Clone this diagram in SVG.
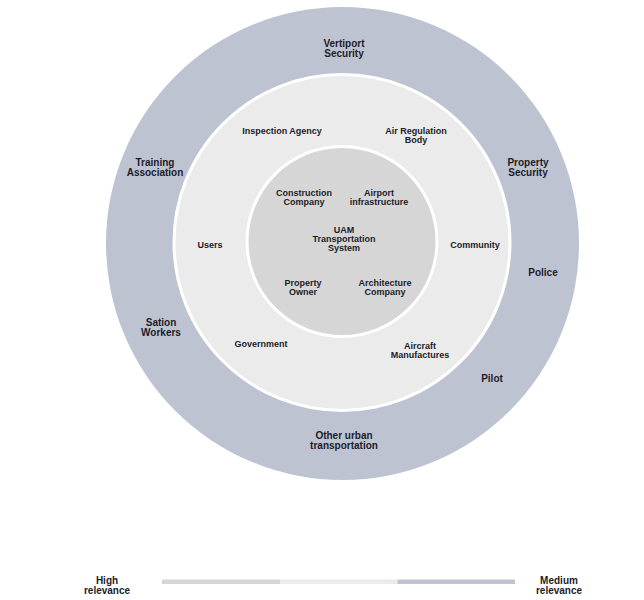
<svg xmlns="http://www.w3.org/2000/svg" width="644" height="600" viewBox="0 0 644 600">
<style>
text{font-family:"Liberation Sans",Arial,sans-serif;font-weight:bold;fill:#1c1c28;text-anchor:middle}
.o{font-size:10px}
.m{font-size:9px}
.l{font-size:10px}
</style>
<rect width="644" height="600" fill="#ffffff"/>
<g id="ring-outer"><circle cx="342.5" cy="243.5" r="236.5" fill="#bec3d2"/></g>
<g id="ring-middle"><circle cx="342" cy="242.5" r="168" fill="#ebebeb" stroke="#ffffff" stroke-width="3"/></g>
<g id="ring-inner"><circle cx="342" cy="241.5" r="95" fill="#d6d6d6" stroke="#ffffff" stroke-width="3"/></g>
<g id="connectors"></g>
<g id="outer-labels">
<g id="n-vertiport"><text class="o" x="344" y="46.5">Vertiport</text><text class="o" x="344" y="56.5">Security</text></g>
<g id="n-training"><text class="o" x="155" y="165.5">Training</text><text class="o" x="155" y="175.5">Association</text></g>
<g id="n-propsec"><text class="o" x="528" y="165.5">Property</text><text class="o" x="528" y="175.5">Security</text></g>
<g id="n-police"><text class="o" x="543" y="276">Police</text></g>
<g id="n-sation"><text class="o" x="161" y="325.5">Sation</text><text class="o" x="161" y="335.5">Workers</text></g>
<g id="n-pilot"><text class="o" x="492" y="382">Pilot</text></g>
<g id="n-other"><text class="o" x="344" y="438.5">Other urban</text><text class="o" x="344" y="448.5">transportation</text></g>
</g>
<g id="middle-labels">
<g id="n-inspection"><text class="m" x="282" y="133.5">Inspection Agency</text></g>
<g id="n-airreg"><text class="m" x="416" y="133.5">Air Regulation</text><text class="m" x="416" y="142.5">Body</text></g>
<g id="n-users"><text class="m" x="210" y="247.5">Users</text></g>
<g id="n-community"><text class="m" x="475" y="247.5">Community</text></g>
<g id="n-government"><text class="m" x="261" y="346.5">Government</text></g>
<g id="n-aircraft"><text class="m" x="420" y="348.5">Aircraft</text><text class="m" x="420" y="357.5">Manufactures</text></g>
</g>
<g id="inner-labels">
<g id="n-construction"><text class="m" x="304" y="195.5">Construction</text><text class="m" x="304" y="204.5">Company</text></g>
<g id="n-airport"><text class="m" x="379" y="195.5">Airport</text><text class="m" x="379" y="204.5">infrastructure</text></g>
<g id="n-uam"><text class="m" x="344" y="232.5">UAM</text><text class="m" x="344" y="241.5">Transportation</text><text class="m" x="344" y="250.5">System</text></g>
<g id="n-propowner"><text class="m" x="303" y="285.5">Property</text><text class="m" x="303" y="294.5">Owner</text></g>
<g id="n-architecture"><text class="m" x="385" y="285.5">Architecture</text><text class="m" x="385" y="294.5">Company</text></g>
</g>
<g id="legend">
<rect x="162" y="579.5" width="118" height="4.5" fill="#d6d6d8"/>
<rect x="280" y="579.5" width="117.5" height="4.5" fill="#ebebeb"/>
<rect x="397.5" y="579.5" width="117.5" height="4.5" fill="#bec3d2"/>
<text class="l" x="107" y="584">High</text><text class="l" x="107" y="594">relevance</text>
<text class="l" x="559" y="584">Medium</text><text class="l" x="559" y="594">relevance</text>
</g>
</svg>
